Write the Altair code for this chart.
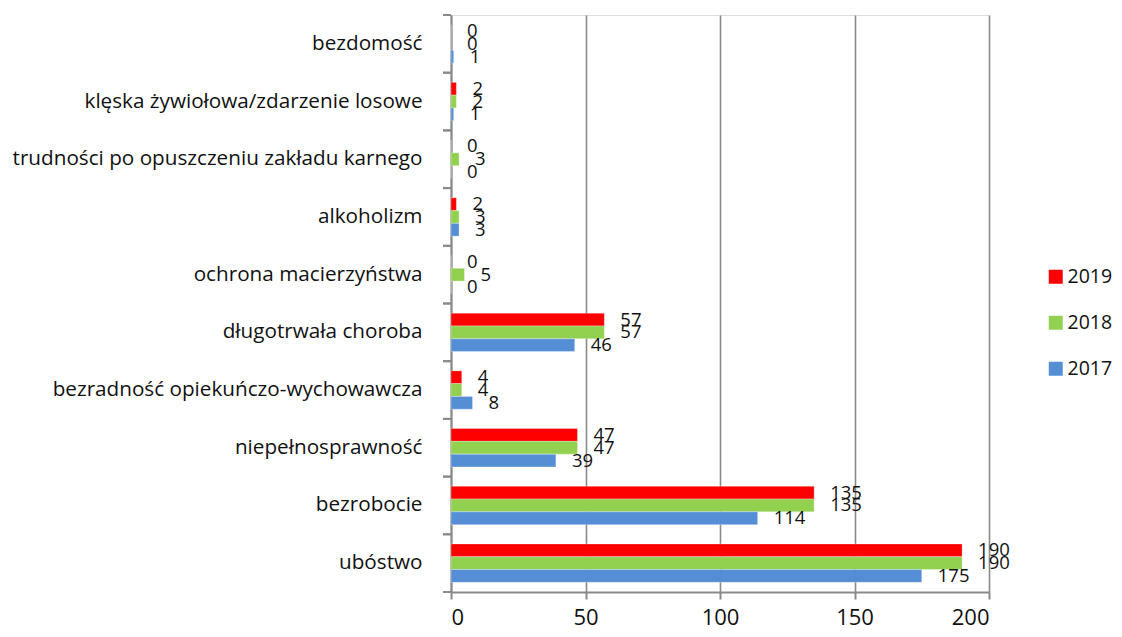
import altair as alt
import pandas as pd

categories = [
    "bezdomość",
    "klęska żywiołowa/zdarzenie losowe",
    "trudności po opuszczeniu zakładu karnego",
    "alkoholizm",
    "ochrona macierzyństwa",
    "długotrwała choroba",
    "bezradność opiekuńczo-wychowawcza",
    "niepełnosprawność",
    "bezrobocie",
    "ubóstwo",
]
years = ["2019", "2018", "2017"]
v2019 = [0, 2, 0, 2, 0, 57, 4, 47, 135, 190]
v2018 = [0, 2, 3, 3, 5, 57, 4, 47, 135, 190]
v2017 = [1, 1, 0, 3, 0, 46, 8, 39, 114, 175]
colors = ["#FF0000", "#92D050", "#558ED5"]
x_ticks = [0, 50, 100, 150, 200]

rows = []
for yr, vals in zip(years, [v2019, v2018, v2017]):
    for c, v in zip(categories, vals):
        rows.append({"kategoria": c, "rok": yr, "wartosc": v})
df = pd.DataFrame(rows)
cats_df = pd.DataFrame({"kategoria": categories})

FONT = "Open Sans"
GRAY = "#898989"
TXT = "#111111"

y_scale = alt.Scale(domain=categories, paddingInner=0, paddingOuter=0)
x_scale = alt.Scale(domain=[0, 200], nice=False)

y_enc = alt.Y(
    "kategoria:N",
    scale=y_scale,
    sort=categories,
    title=None,
    axis=alt.Axis(
        ticks=False,
        labelPadding=29,
        labelFontSize=20.7,
        labelFont=FONT,
        labelColor=TXT,
        labelLimit=440,
        domainColor=GRAY,
        domainWidth=2,
        grid=False,
    ),
)
yoff = alt.YOffset(
    "rok:N",
    sort=years,
    scale=alt.Scale(domain=years, paddingInner=0, paddingOuter=0.754),
)
x_enc = alt.X(
    "wartosc:Q",
    scale=x_scale,
    title=None,
    axis=alt.Axis(
        values=x_ticks,
        labelFontSize=22,
        labelFont=FONT,
        labelColor=TXT,
        labelPadding=8,
        tickSize=7,
        tickColor=GRAY,
        tickWidth=2,
        domainColor=GRAY,
        domainWidth=2,
        grid=True,
        gridColor=GRAY,
        gridWidth=1.6,
    ),
)

bars = alt.Chart(df).mark_bar(stroke="#ffffff", strokeWidth=0.6, strokeOpacity=0.5).encode(
    y=y_enc,
    yOffset=yoff,
    x=x_enc,
    color=alt.Color(
        "rok:N",
        scale=alt.Scale(domain=years, range=colors),
        legend=alt.Legend(
            title=None,
            orient="none",
            legendX=595,
            legendY=252,
            symbolType="square",
            symbolSize=196,
            symbolStrokeWidth=0,
            labelFontSize=19.5,
            labelFont=FONT,
            labelColor=TXT,
            labelOffset=2,
            rowPadding=25,
            padding=0,
        ),
    ),
)

labels = alt.Chart(df).mark_text(
    align="left", baseline="middle", dx=16, fontSize=18.5, font=FONT, color=TXT
).encode(
    y=alt.Y("kategoria:N", sort=categories),
    yOffset=alt.YOffset("rok:N", sort=years),
    x=alt.X("wartosc:Q"),
    text=alt.Text("wartosc:Q"),
)

ticks_top = alt.Chart(cats_df).mark_rule(color=GRAY, strokeWidth=2).encode(
    y=alt.Y("kategoria:N", sort=categories, bandPosition=0),
    x=alt.value(-8),
    x2=alt.value(0),
)
ticks_bottom = alt.Chart(cats_df).mark_rule(color=GRAY, strokeWidth=2).encode(
    y=alt.Y("kategoria:N", sort=categories, bandPosition=1),
    x=alt.value(-8),
    x2=alt.value(0),
)

chart = (
    alt.layer(bars, labels, ticks_top, ticks_bottom)
    .properties(
        width=538,
        height=577,
        autosize=alt.AutoSizeParams(type="none"),
        padding={"left": 443, "top": 7, "right": 125, "bottom": 37},
    )
    .configure_view(stroke=None)
    .configure(font=FONT)
)

chart.save("out.html", embed_options={"renderer": "svg", "actions": False})
